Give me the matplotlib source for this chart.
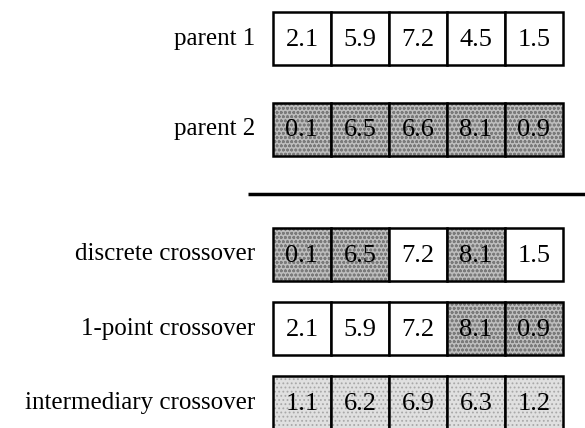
import matplotlib.pyplot as plt
from matplotlib.patches import Rectangle

plt.rcParams['font.family'] = ['Liberation Serif', 'DejaVu Serif']
plt.rcParams['hatch.linewidth'] = 0.8

# chromosome rows: label, gene values, shading (0 = white, 1 = parent 2, 2 = averaged)
labels = ["parent 1", "parent 2", "discrete crossover", "1-point crossover",
          "intermediary crossover"]
values = [
    [2.1, 5.9, 7.2, 4.5, 1.5],
    [0.1, 6.5, 6.6, 8.1, 0.9],
    [0.1, 6.5, 7.2, 8.1, 1.5],
    [2.1, 5.9, 7.2, 8.1, 0.9],
    [1.1, 6.2, 6.9, 6.3, 1.2],
]
shades = [
    [0, 0, 0, 0, 0],
    [1, 1, 1, 1, 1],
    [1, 1, 0, 1, 0],
    [0, 0, 0, 1, 1],
    [2, 2, 2, 2, 2],
]

# fill colour, stipple colour, stipple pattern
FILLS = {0: ("white", None, None),
         1: ("#bdbdbd", "#7a7a7a", "oooo"),
         2: ("#e0e0e0", "#a8a8a8", "....")}
ROW_TOP = [12, 103, 228, 302, 376]
CELL_H = 53
CELL_W = 58
X0 = 273


def main() -> None:
    fig = plt.figure(figsize=(5.85, 4.28), dpi=100)
    ax = fig.add_axes([0, 0, 1, 1])
    ax.set_xlim(0, 585)
    ax.set_ylim(428, 0)
    ax.axis("off")

    for label, vals, sh, top in zip(labels, values, shades, ROW_TOP):
        ax.text(X0 - 18, top + CELL_H / 2, label, ha="right", va="center",
                fontsize=18)
        for i, (v, s) in enumerate(zip(vals, sh)):
            x = X0 + i * CELL_W
            face, dots, hatch = FILLS[s]
            ax.add_patch(Rectangle((x, top), CELL_W, CELL_H, facecolor=face,
                                   edgecolor=dots or face, hatch=hatch,
                                   linewidth=0))
            ax.add_patch(Rectangle((x, top), CELL_W, CELL_H, facecolor="none",
                                   edgecolor="black", linewidth=1.8))
            ax.text(x + CELL_W / 2, top + CELL_H / 2 + 1, f"{v:.1f}",
                    ha="center", va="center", fontsize=19)

    # separator between parents and offspring
    ax.plot([248, 585], [194, 194], color="black", linewidth=2.5,
            solid_capstyle="butt")

    fig.savefig("out.png", dpi=100)


if __name__ == "__main__":
    main()
